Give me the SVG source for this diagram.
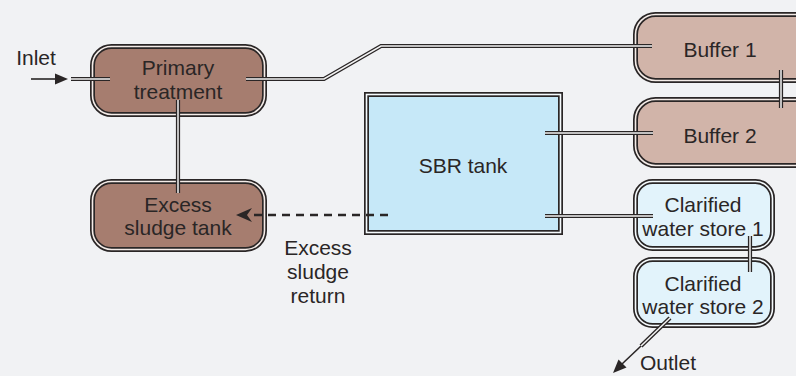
<svg xmlns="http://www.w3.org/2000/svg" width="796" height="376" viewBox="0 0 796 376">
<defs>
<style>
.bg{fill:#f1f2f4}
.ob{stroke:#2a2626;stroke-width:5}
.ib{fill:none;stroke-width:1.6}
.dark{fill:#a67d6f}
.lbrown{fill:#d1b4a9}
.sbr{fill:#c6e8f8}
.clar{fill:#e2f3fb}
.gapb{stroke:#f4ece8}
.gapw{stroke:#f6fbfd}
.po{fill:none;stroke:#2a2626;stroke-width:4.2;stroke-linejoin:miter}
.pi{fill:none;stroke:#f4f4f4;stroke-width:1.5;stroke-linejoin:miter}
text{font-family:"Liberation Sans",Arial,sans-serif;font-size:21px;fill:#2a2626;text-anchor:middle}
</style>
</defs>
<rect class="bg" x="0" y="0" width="796" height="376"/>

<g id="primary">
<rect class="ob dark" x="92.5" y="46.5" width="172" height="68" rx="19"/>
<rect class="ib gapb" x="92.5" y="46.5" width="172" height="68" rx="19"/>
<text x="178" y="75">Primary</text>
<text x="178" y="99">treatment</text>
</g>

<g id="excess-tank">
<rect class="ob dark" x="92.5" y="181.5" width="172" height="68" rx="19"/>
<rect class="ib gapb" x="92.5" y="181.5" width="172" height="68" rx="19"/>
<text x="178" y="212">Excess</text>
<text x="178" y="235">sludge tank</text>
</g>

<g id="sbr">
<rect class="ob sbr" x="366.5" y="94.5" width="194" height="138"/>
<rect class="ib gapw" x="366.5" y="94.5" width="194" height="138"/>
<text x="463" y="173">SBR tank</text>
</g>

<g id="buffer1">
<rect class="ob lbrown" x="635.5" y="14.5" width="180" height="66" rx="20"/>
<rect class="ib gapb" x="635.5" y="14.5" width="180" height="66" rx="20"/>
<text x="720" y="57">Buffer 1</text>
</g>

<g id="buffer2">
<rect class="ob lbrown" x="635.5" y="99.5" width="180" height="66" rx="20"/>
<rect class="ib gapb" x="635.5" y="99.5" width="180" height="66" rx="20"/>
<text x="720" y="143">Buffer 2</text>
</g>

<g id="clarified1">
<rect class="ob clar" x="635.5" y="181.5" width="137" height="67" rx="17"/>
<rect class="ib gapw" x="635.5" y="181.5" width="137" height="67" rx="17"/>
<text x="703" y="212">Clarified</text>
<text x="703" y="236">water store 1</text>
</g>

<g id="clarified2">
<rect class="ob clar" x="635.5" y="259.5" width="137" height="66" rx="17"/>
<rect class="ib gapw" x="635.5" y="259.5" width="137" height="66" rx="17"/>
<text x="703" y="291">Clarified</text>
<text x="703" y="314">water store 2</text>
</g>

<g id="connectors">
<path class="po" d="M71 79 H110"/>
<path class="pi" d="M71 79 H110"/>
<path class="po" d="M246 79 H324 L381 46 H652"/>
<path class="pi" d="M246 79 H324 L381 46 H652"/>
<path class="po" d="M178 100 V193"/>
<path class="pi" d="M178 100 V193"/>
<path class="po" d="M781 70 V108"/>
<path class="pi" d="M781 70 V108"/>
<path class="po" d="M545 133 H653"/>
<path class="pi" d="M545 133 H653"/>
<path class="po" d="M545 216 H653"/>
<path class="pi" d="M545 216 H653"/>
<path class="po" d="M750 236 V272"/>
<path class="pi" d="M750 236 V272"/>
<path class="po" d="M670 318 L641 346"/>
<path class="pi" d="M670 318 L641 346"/>
<path d="M31 79 H58" stroke="#2a2626" stroke-width="1.6" fill="none"/>
<path d="M68 79 L55 73.5 L55 84.5 Z" fill="#2a2626"/>
<path d="M641 346 L622 364" stroke="#2a2626" stroke-width="1.6" fill="none"/>
<path d="M613 373 L618.5 359.5 L626.5 367.5 Z" fill="#2a2626"/>
<path d="M388 215 H250" stroke="#2a2626" stroke-width="2.6" stroke-dasharray="8 6" fill="none"/>
<path d="M236 215 L252 208 L247 215 L252 222 Z" fill="#2a2626"/>
</g>

<g id="labels">
<text x="36" y="65">Inlet</text>
<text x="318" y="255">Excess</text>
<text x="318" y="279">sludge</text>
<text x="318" y="303">return</text>
<text x="640" y="370" style="text-anchor:start">Outlet</text>
</g>
</svg>
